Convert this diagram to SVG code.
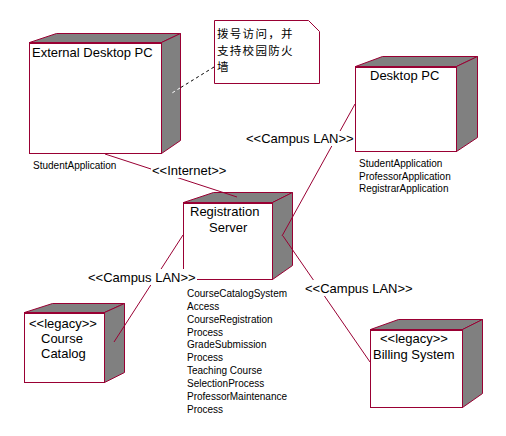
<svg xmlns="http://www.w3.org/2000/svg" width="506" height="436" viewBox="0 0 506 436">
<style>
.face{fill:#808080;stroke:#990033;stroke-width:1}
.front{fill:#ffffff;stroke:#990033;stroke-width:1}
.topedge{stroke:#990033;stroke-width:2}
.conn{stroke:#990033;stroke-width:1;fill:none}
.t{font-family:"Liberation Sans",Arial,sans-serif;font-size:13px;fill:#000}
.s{font-family:"Liberation Sans",Arial,sans-serif;font-size:10px;fill:#000}
.cjk{font-family:"Liberation Sans","Noto Sans CJK SC",sans-serif;font-size:11.5px;letter-spacing:1.3px;fill:#000}
.bg{fill:#ffffff}
</style>
<rect width="506" height="436" fill="#ffffff"/>
<g id="node-external-desktop-pc">
<polygon class="face" points="29.5,42.5 56.5,33.5 180.5,33.5 161.5,42.5"/>
<polygon class="face" points="161.5,42.5 180.5,33.5 180.5,140.5 161.5,153.5"/>
<rect class="front" x="29.5" y="42.5" width="132" height="111"/>
<line class="topedge" x1="29" y1="43" x2="162" y2="43"/>
<text class="t" x="32" y="57">External Desktop PC</text>
<text class="s" x="33" y="169">StudentApplication</text>
</g>
<g id="node-desktop-pc">
<polygon class="face" points="355.5,66.5 382.5,56.5 477.5,56.5 456.5,66.5"/>
<polygon class="face" points="456.5,66.5 477.5,56.5 477.5,137.5 456.5,151.5"/>
<rect class="front" x="355.5" y="66.5" width="101" height="85"/>
<line class="topedge" x1="355" y1="67" x2="457" y2="67"/>
<text class="t" x="370" y="80">Desktop PC</text>
<text class="s" x="359" y="167">StudentApplication</text>
<text class="s" x="359" y="180">ProfessorApplication</text>
<text class="s" x="359" y="192">RegistrarApplication</text>
</g>
<g id="node-registration-server">
<polygon class="face" points="183.5,202.5 213.5,192.5 292.5,192.5 272.5,202.5"/>
<polygon class="face" points="272.5,202.5 292.5,192.5 292.5,265.5 272.5,279.5"/>
<rect class="front" x="183.5" y="202.5" width="89" height="77"/>
<line class="topedge" x1="183" y1="203" x2="273" y2="203"/>
<text class="t" x="190" y="216">Registration</text>
<text class="t" x="209" y="232">Server</text>
<text class="s" x="187" y="297">CourseCatalogSystem</text>
<text class="s" x="187" y="310">Access</text>
<text class="s" x="187" y="323">CourseRegistration</text>
<text class="s" x="187" y="336">Process</text>
<text class="s" x="187" y="348">GradeSubmission</text>
<text class="s" x="187" y="361">Process</text>
<text class="s" x="187" y="374">Teaching Course</text>
<text class="s" x="187" y="387">SelectionProcess</text>
<text class="s" x="187" y="400">ProfessorMaintenance</text>
<text class="s" x="187" y="413">Process</text>
</g>
<g id="node-course-catalog">
<polygon class="face" points="24.5,312.5 52.5,303.5 124.5,303.5 104.5,312.5"/>
<polygon class="face" points="104.5,312.5 124.5,303.5 124.5,372.5 104.5,382.5"/>
<rect class="front" x="24.5" y="312.5" width="80" height="70"/>
<line class="topedge" x1="24" y1="313" x2="105" y2="313"/>
<text class="t" x="29" y="328">&lt;&lt;legacy&gt;&gt;</text>
<text class="t" x="41" y="343">Course</text>
<text class="t" x="41" y="358">Catalog</text>
</g>
<g id="node-billing-system">
<polygon class="face" points="370.5,329.5 398.5,319.5 482.5,319.5 462.5,329.5"/>
<polygon class="face" points="462.5,329.5 482.5,319.5 482.5,393.5 462.5,407.5"/>
<rect class="front" x="370.5" y="329.5" width="92" height="78"/>
<line class="topedge" x1="370" y1="330" x2="463" y2="330"/>
<text class="t" x="380" y="343">&lt;&lt;legacy&gt;&gt;</text>
<text class="t" x="373" y="359">Billing System</text>
</g>
<g id="note">
<polygon points="214.5,20.5 308.5,20.5 319.5,31.5 319.5,83.5 214.5,83.5" fill="#ffffff" stroke="#990033" stroke-width="1"/>
<text class="cjk" x="217" y="38">拨号访问，并</text>
<text class="cjk" x="217" y="54.7">支持校园防火</text>
<text class="cjk" x="217" y="71.4">墙</text>
</g>
<g id="connectors">
<line x1="214" y1="67" x2="180" y2="88" stroke="#000" stroke-width="1" stroke-dasharray="3,3"/>
<line x1="180" y1="88" x2="172" y2="93" stroke="#fff" stroke-width="1" stroke-dasharray="3,3"/>
<line class="conn" x1="105" y1="154" x2="237" y2="197"/>
<line class="conn" x1="355" y1="104" x2="282" y2="236"/>
<line class="conn" x1="183" y1="235" x2="114" y2="342"/>
<line class="conn" x1="283" y1="236" x2="370" y2="362"/>
<rect class="bg" x="151" y="163" width="76" height="15"/>
<text class="t" x="152" y="175">&lt;&lt;Internet&gt;&gt;</text>
<rect class="bg" x="245" y="131" width="110" height="15"/>
<text class="t" x="246" y="143">&lt;&lt;Campus LAN&gt;&gt;</text>
<rect class="bg" x="87" y="269" width="110" height="16"/>
<text class="t" x="88" y="282">&lt;&lt;Campus LAN&gt;&gt;</text>
<rect class="bg" x="304" y="280" width="110" height="16"/>
<text class="t" x="305" y="293">&lt;&lt;Campus LAN&gt;&gt;</text>
</g>
</svg>
